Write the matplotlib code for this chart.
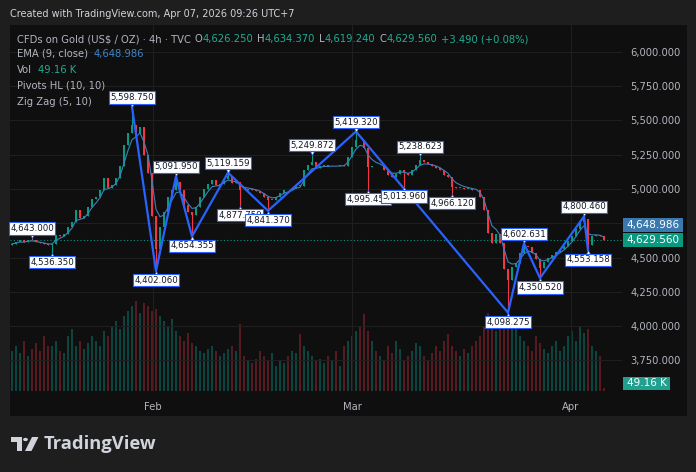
import numpy as np
import pandas as pd
import matplotlib
matplotlib.use("Agg")
import matplotlib.pyplot as plt
from matplotlib.patches import Rectangle, Polygon, Circle
import matplotlib.transforms as mtransforms

W, H = 696, 472

# closes of the (coarsened) 4h candles
closes = [
    4600, 4615, 4625, 4610, 4630, 4625, 4612, 4605, 4598, 4590,
    4600, 4665, 4660, 4675, 4720, 4760, 4850, 4790, 4800, 4870,
    4925, 4945, 4990, 5080, 5010, 5030, 5080, 5170, 5320, 5410,
    5470, 5410, 5450, 5250, 5117, 4800, 4560, 4720, 4830, 4940,
    4990, 5050, 4990, 4880, 4830, 4810, 4870, 4940, 5000, 5040,
    5066, 5030, 5035, 5070, 5095, 5044, 5050, 4995, 4990, 5000,
    4993, 4985, 4971, 4940, 4920, 4920, 4942, 4970, 4995, 4990,
    5007, 5029, 5020, 5140, 5175, 5200, 5153, 5168, 5175, 5165,
    5170, 5165, 5172, 5170, 5233, 5306, 5360, 5357, 5300, 5160,
    5170, 5165, 5167, 5140, 5100, 5087, 5110, 5139, 5120, 5102,
    5139, 5175, 5211, 5197, 5180, 5170, 5155, 5139, 5105, 5087,
    5015, 5007, 5010, 5000, 5002, 4993, 4990, 4942, 4850, 4680,
    4606, 4670, 4606, 4420, 4337, 4431, 4460, 4533, 4580, 4577,
    4533, 4490, 4424, 4470, 4500, 4519, 4540, 4560, 4585, 4620,
    4660, 4710, 4760, 4780, 4590, 4655, 4665, 4660, 4629.56,
]
first_open = 4590

# volume in K
volumes = [
    640, 720, 610, 800, 560, 670, 770, 640, 880, 720,
    720, 800, 640, 610, 880, 990, 720, 800, 670, 770, 880, 800, 720,
    960, 880, 1040, 1120, 990, 1200, 1280, 1360, 1440, 1250, 1410, 1360, 1280,
    1310, 1200, 1120, 1040, 1150, 960, 880, 800, 930, 770,
    720, 640, 610, 670, 720, 640, 560, 610, 670, 720, 640, 1070,
    560, 480, 450, 510, 640, 560, 480, 610, 400, 480, 450, 560, 640, 610, 910,
    720, 640, 560, 480, 510, 450, 560, 480, 640, 400, 720, 800,
    880, 960, 1040, 1230, 960, 800,
    640, 560, 480, 720, 610, 800, 670, 480, 560, 640, 770, 720, 560, 480, 610, 720, 640,
    800, 910, 720, 640, 560, 670, 610, 720, 800, 880,
    1040, 1250, 1150, 960, 1120, 1200, 1250, 1120, 990, 880,
    800, 720, 640, 880, 770, 670, 610, 720, 800, 640,
    720, 880, 960, 800, 1040, 930, 990, 720, 640, 560, 49.16,
]

# pivots (candle index, price)
high_idx = [5, 30, 41, 54, 75, 86, 102, 128, 143]
high_val = [4643.000, 5598.750, 5091.950, 5119.159, 5249.872, 5419.320, 5238.623, 4602.631, 4800.460]
low_idx = [10, 36, 45, 57, 64, 89, 98, 110, 124, 132, 144]
low_val = [4536.350, 4402.060, 4654.355, 4877.759, 4841.370, 4995.450, 5013.960, 4966.120, 4098.275, 4350.520, 4553.158]

zz_idx = [30, 36, 41, 45, 54, 64, 86, 124, 128, 132, 143, 144]
zz_val = [5598.750, 4402.060, 5091.950, 4654.355, 5119.159, 4841.370, 5419.320, 4098.275, 4602.631, 4350.520, 4800.460, 4553.158]

month_pos = [35.25, 85, 139.75]
month_lbl = ["Feb", "Mar", "Apr"]
price_ticks = [3750, 4000, 4250, 4500, 4750, 5000, 5250, 5500, 5750, 6000]

last_close = 4629.56
ema_last = 4648.986
vol_last = 49.16

UP, DOWN = "#089981", "#f23645"
GRAY = "#b2b5be"
BLUE = "#2962ff"
EMA_C = "#3f7fb8"

n = len(closes)
opens = [first_open] + closes[:-1]
highs = [max(o, c) for o, c in zip(opens, closes)]
lows = [min(o, c) for o, c in zip(opens, closes)]
for i, v in zip(high_idx, high_val):
    highs[i] = max(highs[i], v)
for i, v in zip(low_idx, low_val):
    lows[i] = min(lows[i], v)
# EMA 9 on the real 4h bars ~ span 3.8 on these coarser candles
ema = pd.Series(closes).ewm(span=3.8, adjust=False).mean()


def fx(x):
    return x / W


def fy(y):
    return 1 - y / H


fig = plt.figure(figsize=(W / 100, H / 100), dpi=100, facecolor="#1e1e1e")
fig.patches.append(Rectangle((fx(10), fy(416)), fx(677), 391 / H, transform=fig.transFigure,
                             facecolor="#0f0f0f", edgecolor="none", zorder=-5))

rect = [fx(10), fy(391), fx(612), 366 / H]
xlim = (-0.5, 152.5)
ylim = (3527, 6196)

# volume pane underneath
vax = fig.add_axes(rect)
vax.set_facecolor("none")
vcols = ["#0a453f" if c >= o else "#561b20" for o, c in zip(opens, closes)]
vax.bar(range(n), volumes, width=0.4, color=vcols, linewidth=0)
vax.set_xlim(xlim)
vax.set_ylim(0, 5860)
vax.axis("off")

ax = fig.add_axes(rect)
ax.set_facecolor("none")
ax.set_xlim(xlim)
ax.set_ylim(ylim)
for s in ax.spines.values():
    s.set_visible(False)
ax.set_yticks(price_ticks)
ax.set_yticklabels(["" if p == 4750 else f"{p:,.3f}" for p in price_ticks])
ax.yaxis.tick_right()
ax.set_xticks(month_pos)
ax.set_xticklabels(month_lbl)
ax.tick_params(axis="both", length=0, colors=GRAY, labelsize=7.2)
ax.tick_params(axis="y", pad=6)
ax.tick_params(axis="x", pad=8)
ax.grid(True, color="#1f1f1f", linewidth=0.8)
ax.set_axisbelow(True)

cols = [UP if c >= o else DOWN for o, c in zip(opens, closes)]
ax.vlines(range(n), lows, highs, colors=cols, linewidth=0.8, zorder=2)
ax.bar(range(n), [max(abs(c - o), 4) for o, c in zip(opens, closes)], width=0.6,
       bottom=[min(o, c) for o, c in zip(opens, closes)], color=cols, linewidth=0, zorder=3)
ax.plot(range(n), ema, color=EMA_C, linewidth=0.8, zorder=4)
ax.axhline(last_close, color=UP, linestyle=(0, (1, 2)), linewidth=0.8, zorder=1)
ax.plot(zz_idx, zz_val, color=BLUE, linewidth=1.6, zorder=5)

# pivot labels
for idx, vals, sign in [(high_idx, high_val, 1), (low_idx, low_val, -1)]:
    for i, v in zip(idx, vals):
        tr = mtransforms.offset_copy(ax.transData, fig=fig, x=0, y=sign * 3, units="dots")
        ax.plot([i], [v], marker="v" if sign > 0 else "^", markersize=4.5, color="white",
                markeredgecolor=BLUE, markeredgewidth=0.5, transform=tr, zorder=6)
        ax.annotate(f"{v:,.3f}", xy=(i, v), xytext=(0, sign * 6.8), textcoords="offset points",
                    ha="center", va="center", fontsize=6.2, color="#131722", zorder=7,
                    bbox=dict(boxstyle="square,pad=0.18", fc="white", ec=BLUE, lw=0.8))


def tag(y_center, text, color, x0=623, w=60, h=14):
    fig.patches.append(Rectangle((fx(x0), fy(y_center + h / 2)), w / W, h / H, transform=fig.transFigure,
                                 facecolor=color, edgecolor="none", zorder=5))
    fig.text(fx(x0 + w / 2), fy(y_center), text, color="white", fontsize=7.5, ha="center",
             va="center", zorder=6)


fig.canvas.draw()
close_px = H - ax.transData.transform((0, last_close))[1]
ema_px = H - ax.transData.transform((0, ema_last))[1]
ema_px = min(ema_px, close_px - 15)
vol_px = H - vax.transData.transform((0, vol_last))[1]
vol_px = min(vol_px, 383.5)
tag(ema_px, f"{ema_last:,.3f}", "#3a78ad")
tag(close_px, f"{last_close:,.3f}", UP)
tag(vol_px, f"{vol_last:.2f} K", "#22a08f", w=47, h=13)

# header and legend
fig.text(fx(10), fy(14), "Created with TradingView.com, Apr 07, 2026 09:26 UTC+7",
         color="#d1d4dc", fontsize=7.0, va="center")

renderer = fig.canvas.get_renderer()


def seq_text(x, y, parts, size=7.2):
    for s, c, gap in parts:
        x += gap
        t = fig.text(fx(x), fy(y), s, color=c, fontsize=size, va="center", ha="left")
        x += t.get_window_extent(renderer=renderer).width
    return x


TEAL = "#22ab94"
seq_text(17, 39, [("CFDs on Gold (US$ / OZ) · 4h · TVC", GRAY, 0),
                  ("O", GRAY, 4), ("4,626.250", TEAL, 0),
                  ("H", GRAY, 4), ("4,634.370", TEAL, 0),
                  ("L", GRAY, 4), ("4,619.240", TEAL, 0),
                  ("C", GRAY, 4), ("4,629.560", TEAL, 0),
                  ("+3.490 (+0.08%)", TEAL, 4)])
seq_text(17, 54, [("EMA (9, close)", GRAY, 0), ("4,648.986", "#3d85c6", 6)])
seq_text(17, 70, [("Vol", GRAY, 0), ("49.16 K", TEAL, 6)])
seq_text(17, 86, [("Pivots HL (10, 10)", GRAY, 0)])
seq_text(17, 102, [("Zig Zag (5, 10)", GRAY, 0)])

# TradingView logo
LOGO = "#d1d4dc"
fig.patches.append(Polygon([(fx(11), fy(437)), (fx(22), fy(437)), (fx(22), fy(451)), (fx(17), fy(451)),
                            (fx(17), fy(442)), (fx(11), fy(442))], closed=True, transform=fig.transFigure,
                           facecolor=LOGO, edgecolor="none"))
fig.patches.append(Circle((fx(25.5), fy(439.5)), 2.4 / W, transform=fig.transFigure,
                          facecolor=LOGO, edgecolor="none"))
fig.patches.append(Polygon([(fx(32), fy(437)), (fx(38.5), fy(437)), (fx(31.5), fy(451)), (fx(25), fy(451))],
                           closed=True, transform=fig.transFigure, facecolor=LOGO, edgecolor="none"))
fig.text(fx(44), fy(444), "TradingView", color=LOGO, fontsize=13.2, fontweight="bold",
         family="Open Sans", va="center", ha="left")

fig.savefig("out.png", dpi=100, facecolor=fig.get_facecolor())
